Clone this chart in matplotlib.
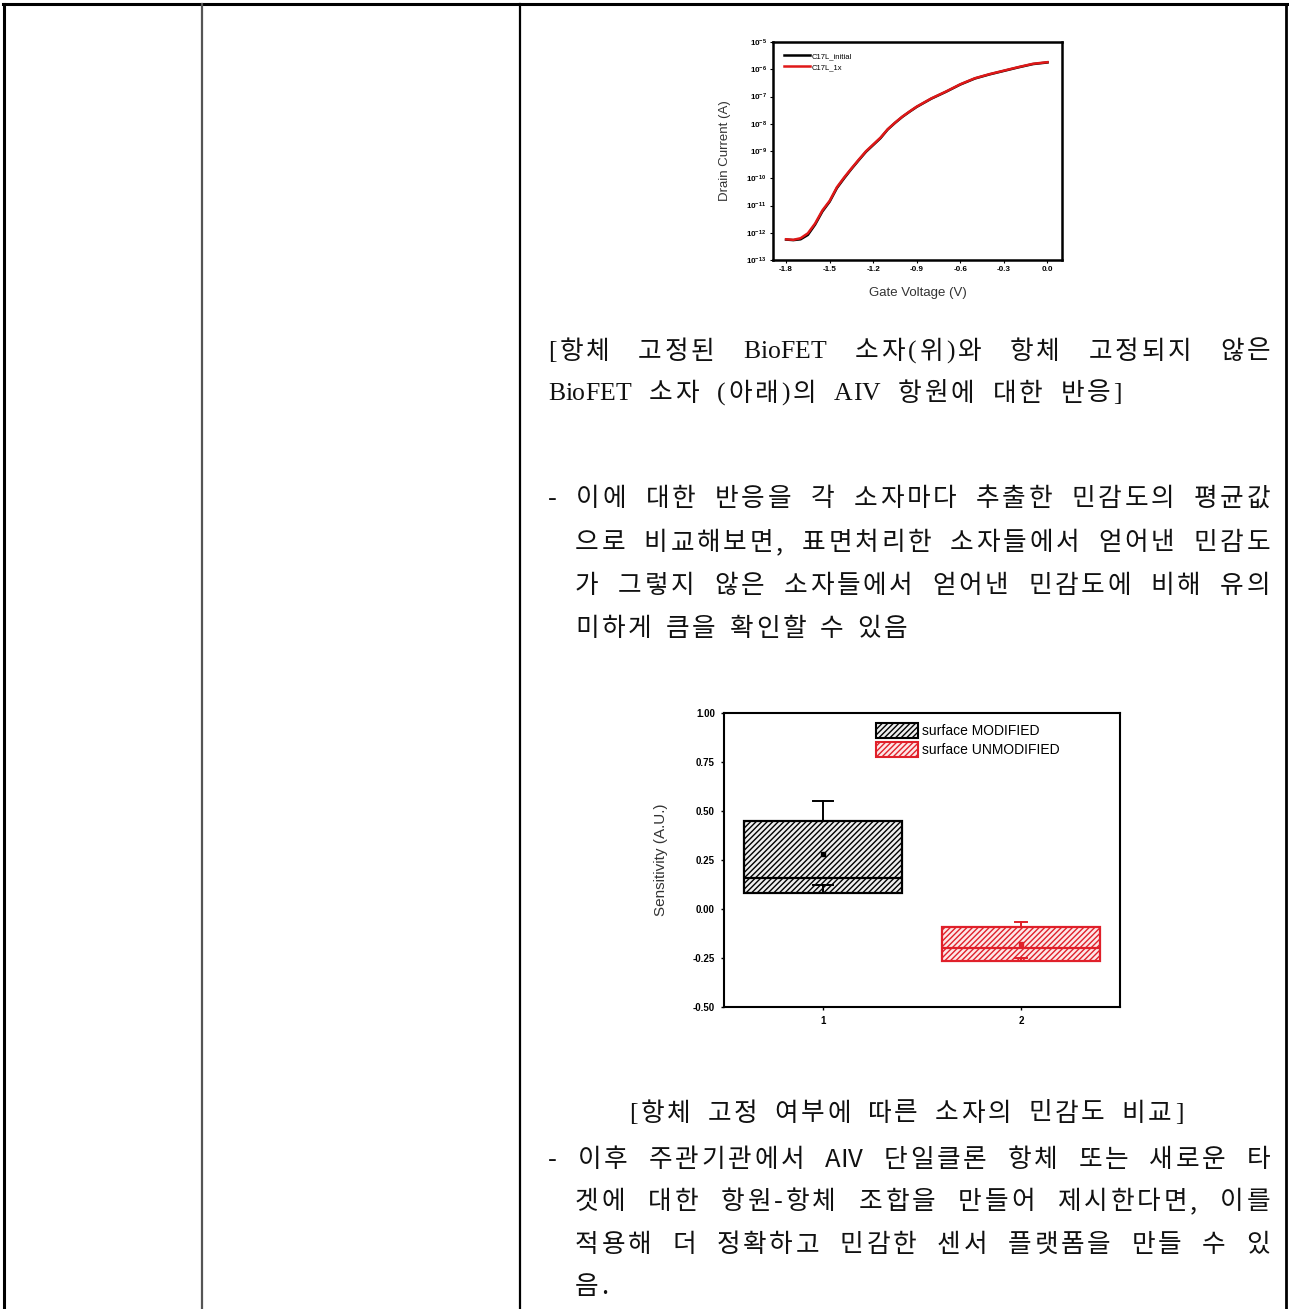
import numpy as np
import matplotlib
matplotlib.use("Agg")
import matplotlib.pyplot as plt
from matplotlib.patches import Patch

# transfer curve (gate sweep), log10 of drain current
gate_v = [-1.80, -1.75, -1.70, -1.65, -1.60, -1.55, -1.50, -1.45, -1.40, -1.35,
          -1.30, -1.25, -1.20, -1.15, -1.10, -1.05, -1.00, -0.95, -0.90, -0.80,
          -0.70, -0.60, -0.50, -0.40, -0.30, -0.20, -0.10, 0.00]
log_id_initial = [-12.25, -12.27, -12.24, -12.08, -11.70, -11.22, -10.86, -10.36,
                  -10.00, -9.66, -9.34, -9.03, -8.78, -8.53, -8.21, -7.97, -7.75,
                  -7.56, -7.38, -7.08, -6.83, -6.56, -6.34, -6.19, -6.06, -5.93,
                  -5.81, -5.75]
log_id_1x = [-12.24, -12.26, -12.20, -12.02, -11.66, -11.18, -10.83, -10.33,
             -9.97, -9.64, -9.32, -9.01, -8.76, -8.51, -8.20, -7.96, -7.74,
             -7.55, -7.37, -7.07, -6.82, -6.55, -6.33, -6.18, -6.05, -5.92,
             -5.80, -5.74]
curve_labels = ["C17L_initial", "C17L_1x"]

# sensitivity box statistics
groups = [1, 2]
group_labels = ["surface MODIFIED", "surface UNMODIFIED"]
q1 = [0.08, -0.265]
q3 = [0.45, -0.09]
medians = [0.16, -0.20]
means = [0.28, -0.18]
whisk_lo = [0.12, -0.25]
whisk_hi = [0.55, -0.065]

# page text
caption1 = [["[항체", "고정된", "BioFET", "소자(위)와", "항체", "고정되지", "않은"],
            ["BioFET", "소자", "(아래)의", "AIV", "항원에", "대한", "반응]"]]
para1 = [["-", "이에", "대한", "반응을", "각", "소자마다", "추출한", "민감도의", "평균값"],
         ["으로", "비교해보면,", "표면처리한", "소자들에서", "얻어낸", "민감도"],
         ["가", "그렇지", "않은", "소자들에서", "얻어낸", "민감도에", "비해", "유의"],
         ["미하게", "큼을", "확인할", "수", "있음"]]
caption2 = ["[항체", "고정", "여부에", "따른", "소자의", "민감도", "비교]"]
para2 = [["-", "이후", "주관기관에서", "AIV", "단일클론", "항체", "또는", "새로운", "타"],
         ["겟에", "대한", "항원-항체", "조합을", "만들어", "제시한다면,", "이를"],
         ["적용해", "더", "정확하고", "민감한", "센서", "플랫폼을", "만들", "수", "있"],
         ["음."]]

W, H = 1289, 1309
fig = plt.figure(figsize=(W / 100, H / 100), dpi=100)
fig.patch.set_facecolor("white")

# page background with table grid, in pixel units
bg = fig.add_axes([0, 0, 1, 1])
bg.set_xlim(0, W)
bg.set_ylim(H, 0)
bg.axis("off")
bg.plot([3, 1287], [4, 4], color="black", lw=2.2)
bg.plot([4, 4], [4, H], color="black", lw=2.2)
bg.plot([202, 202], [4, H], color="#555555", lw=1.6)
bg.plot([519.5, 519.5], [4, H], color="black", lw=1.6)
bg.plot([1286, 1286], [4, H], color="black", lw=2.0)

renderer = fig.canvas.get_renderer()
sans_kr = ["Noto Sans CJK KR"]
serif_kr = ["Liberation Serif", "Noto Sans CJK KR"]
TXT = 18.5
TRACK = 2.8


def is_hangul(c):
    return 0xAC00 <= ord(c) <= 0xD7A3


def make_word(word, y, family):
    # one text per character so the Hangul glyphs can be spread a little
    chars = []
    for k, c in enumerate(word):
        t = bg.text(0, y + 2, c, va="center", ha="left", fontsize=TXT,
                    family=family, color="#111111")
        w = t.get_window_extent(renderer).width
        nxt = word[k + 1] if k + 1 < len(word) else ""
        if nxt and (is_hangul(c) or is_hangul(nxt)):
            w += TRACK
        chars.append((t, w))
    total = sum(w for _, w in chars)
    return chars, total


def put_line(words, x0, x1, y, justify, family, gap0=14, center=None):
    made = [make_word(w, y, family) for w in words]
    widths = [m[1] for m in made]
    if justify and len(words) > 1:
        gap = (x1 - x0 - sum(widths)) / (len(words) - 1)
    else:
        gap = gap0
    if center is not None:
        x0 = center - (sum(widths) + gap * (len(words) - 1)) / 2
    x = x0
    for chars, total in made:
        cx = x
        for t, w in chars:
            t.set_x(cx)
            cx += w
        x += total + gap


put_line(caption1[0], 548, 1270, 350, True, serif_kr)
put_line(caption1[1], 548, 1270, 392, False, serif_kr, gap0=18)

para1_y = [497, 541, 584, 627]
for i, words in enumerate(para1):
    x0 = 548 if i == 0 else 575
    put_line(words, x0, 1270, para1_y[i], i < 3, sans_kr)

put_line(caption2, 0, 0, 1112, False, serif_kr, gap0=17, center=906)

para2_y = [1158, 1200, 1243, 1285]
for i, words in enumerate(para2):
    x0 = 548 if i == 0 else 575
    put_line(words, x0, 1270, para2_y[i], i < 3, sans_kr)

chart_font = ["Liberation Sans", "DejaVu Sans"]

# transfer curve chart
ax1 = fig.add_axes([773 / W, 1 - 260 / H, 289 / W, 218 / H])
ax1.plot(gate_v, 10.0 ** np.array(log_id_initial), color="black", lw=1.8,
         label=curve_labels[0])
ax1.plot(gate_v, 10.0 ** np.array(log_id_1x), color="#e01818", lw=1.8,
         label=curve_labels[1])
ax1.set_yscale("log")
ax1.set_ylim(1e-13, 1e-5)
ax1.set_xlim(-1.89, 0.1)
ax1.set_yticks([10.0 ** k for k in range(-13, -4)])
ax1.minorticks_off()
ax1.set_xticks([-1.8, -1.5, -1.2, -0.9, -0.6, -0.3, 0.0])
ax1.set_xticklabels(["-1.8", "-1.5", "-1.2", "-0.9", "-0.6", "-0.3", "0.0"])
ax1.tick_params(labelsize=5.8, width=0.8, length=2, pad=2.5)
for lab in ax1.get_xticklabels() + ax1.get_yticklabels():
    lab.set_fontweight("bold")
    lab.set_family(chart_font)
for s in ax1.spines.values():
    s.set_linewidth(1.8)
ax1.set_xlabel("Gate Voltage (V)", fontsize=9.5, family=chart_font, labelpad=10,
               color="#333333")
ax1.set_ylabel("Drain Current (A)", fontsize=9.5, family=chart_font, labelpad=11,
               color="#333333")
ax1.legend(loc="upper left", frameon=False, handlelength=3.5,
           labelspacing=0.45, borderaxespad=1.0, handletextpad=0.2,
           prop={"family": chart_font, "size": 5.5})

# sensitivity box chart
ax2 = fig.add_axes([724 / W, 1 - 1007 / H, 396 / W, 294 / H])
stats = []
for i in range(len(groups)):
    stats.append({"med": medians[i], "q1": q1[i], "q3": q3[i],
                  "whislo": whisk_lo[i], "whishi": whisk_hi[i],
                  "mean": means[i], "fliers": []})
edge_cols = ["black", "#e0202a"]
face_cols = ["#eeeeee", "#fde8e8"]
for i in range(len(groups)):
    ax2.bxp([stats[i]], positions=[groups[i]], widths=0.8, patch_artist=True,
            showmeans=True, showfliers=False, capwidths=[0.1 if i == 0 else 0.06],
            boxprops=dict(facecolor=face_cols[i], edgecolor=edge_cols[i],
                          linewidth=1.6, hatch="//////"),
            medianprops=dict(color=edge_cols[i], linewidth=1.6),
            whiskerprops=dict(color=edge_cols[i], linewidth=1.4),
            capprops=dict(color=edge_cols[i], linewidth=1.4),
            meanprops=dict(marker="s", markersize=2.5, markerfacecolor=edge_cols[i],
                           markeredgecolor=edge_cols[i]))
ax2.set_xlim(0.5, 2.5)
ax2.set_ylim(-0.5, 1.0)
ax2.set_yticks([-0.5, -0.25, 0.0, 0.25, 0.5, 0.75, 1.0])
ax2.set_yticklabels(["-0.50", "-0.25", "0.00", "0.25", "0.50", "0.75", "1.00"])
ax2.set_xticks(groups)
ax2.set_xticklabels([str(g) for g in groups])
ax2.tick_params(labelsize=7, width=1, length=2.5, pad=4)
for lab in ax2.get_xticklabels() + ax2.get_yticklabels():
    lab.set_fontweight("bold")
    lab.set_family(chart_font)
for s in ax2.spines.values():
    s.set_linewidth(1.5)
ax2.set_ylabel("Sensitivity (A.U.)", fontsize=11, family=chart_font, labelpad=18,
               color="#333333")
handles = [Patch(facecolor=face_cols[i], edgecolor=edge_cols[i], hatch="//////",
                 linewidth=1.5, label=group_labels[i]) for i in range(len(groups))]
ax2.legend(handles=handles, loc="upper left", bbox_to_anchor=(0.37, 0.985),
           frameon=False, handlelength=3.0, handleheight=1.25, labelspacing=0.3,
           handletextpad=0.3, borderaxespad=0, prop={"family": chart_font, "size": 10})

fig.savefig("out.png", dpi=100, facecolor="white")
